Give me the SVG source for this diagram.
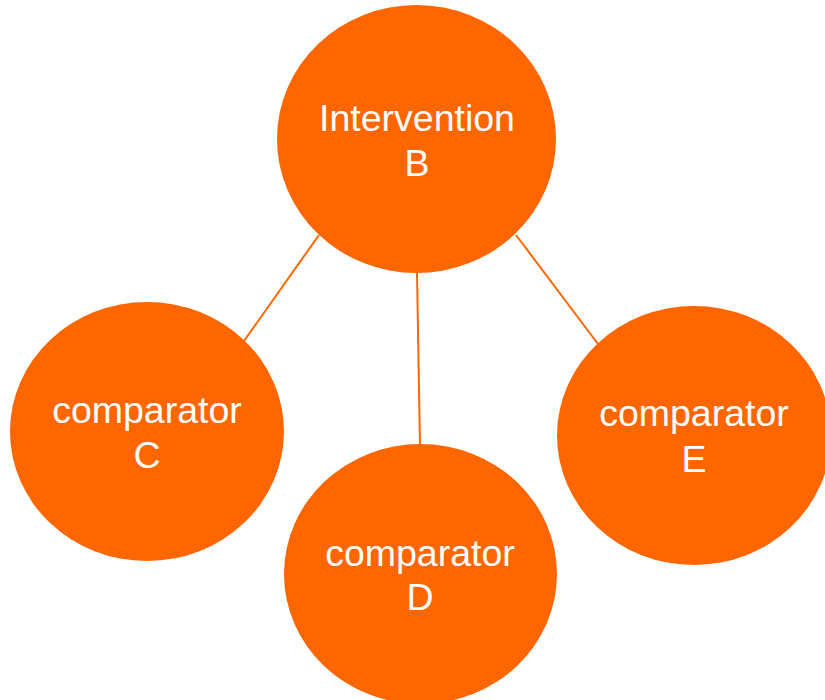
<svg xmlns="http://www.w3.org/2000/svg" width="825" height="700" viewBox="0 0 825 700">
<style>
.node{fill:#FF6600;}
.lbl{font-family:"Liberation Sans",Arial,sans-serif;font-size:37.5px;fill:#FFFFFF;text-anchor:middle;}
.conn{stroke:#FF6600;stroke-width:2;fill:none;}
</style>
<rect width="825" height="700" fill="#FFFFFF"/>
<g id="connectors">
<line class="conn" x1="319" y1="235" x2="244" y2="341"/>
<line class="conn" x1="417" y1="272" x2="420" y2="446"/>
<line class="conn" x1="516" y1="235" x2="598" y2="344"/>
</g>
<g id="node-B">
<ellipse class="node" cx="416.5" cy="139" rx="139.5" ry="134"/>
<text class="lbl" x="417" y="131">Intervention</text>
<text class="lbl" x="417" y="176">B</text>
</g>
<g id="node-C">
<ellipse class="node" cx="147" cy="431.5" rx="137" ry="129.5"/>
<text class="lbl" x="147" y="423">comparator</text>
<text class="lbl" x="147" y="468">C</text>
</g>
<g id="node-D">
<ellipse class="node" cx="420.5" cy="574" rx="136.5" ry="130"/>
<text class="lbl" x="420" y="566">comparator</text>
<text class="lbl" x="420" y="610">D</text>
</g>
<g id="node-E">
<ellipse class="node" cx="694" cy="435.5" rx="137" ry="129.5"/>
<text class="lbl" x="694" y="426">comparator</text>
<text class="lbl" x="694" y="472">E</text>
</g>
</svg>
